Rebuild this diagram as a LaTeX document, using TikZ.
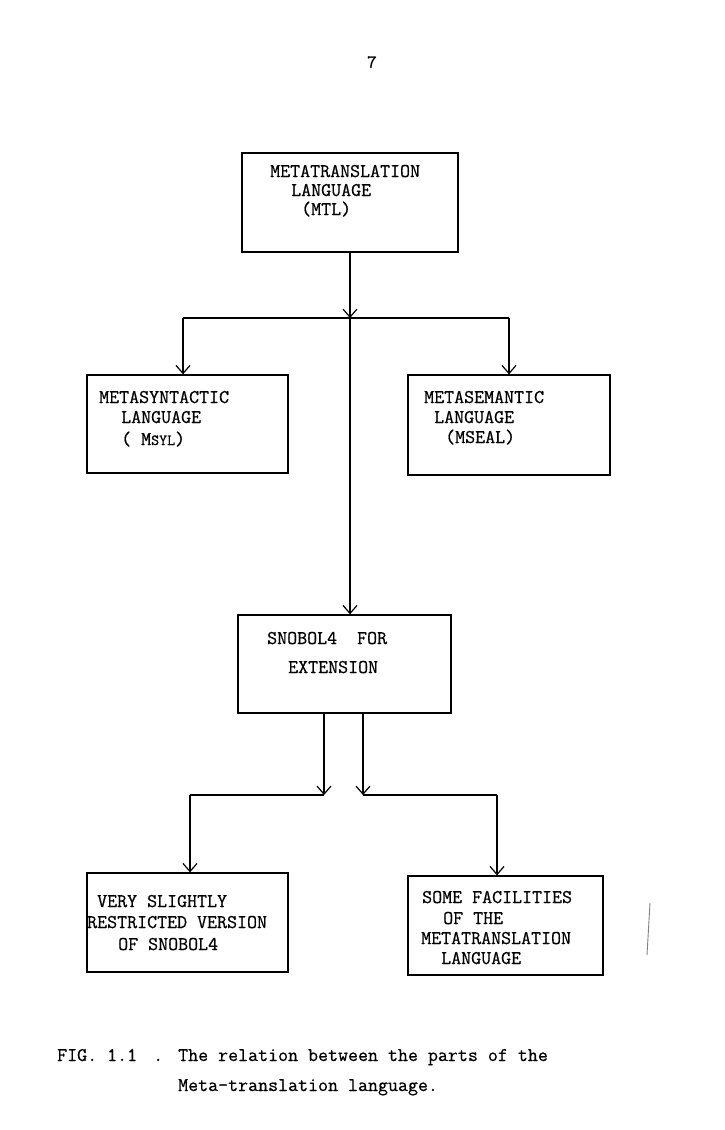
\documentclass[tikz,border=0pt]{standalone}
\usepackage{fontspec}
\newfontfamily\typew[FakeBold=0.6]{Latin Modern Mono}
\usetikzlibrary{arrows.meta}
\begin{document}
\begin{tikzpicture}[x=1pt,y=-1pt,
  box/.style={draw, line width=1.3pt, inner sep=0pt},
  txt/.style={anchor=base west, inner sep=0pt, font=\typew\fontsize{19.4}{22}\selectfont},
  arr/.style={line width=1.2pt, -{Straight Barb[length=8pt,width=14pt,line width=1.2pt]}},
  ln/.style={line width=1.2pt}]
\useasboundingbox[fill=white] (0,0) rectangle (725,1130);
% page number
\node[txt, anchor=base, font=\ttfamily\bfseries\fontsize{19}{22}\selectfont] (pg) at (372,68) {7};
% boxes
\node[box, minimum width=216pt, minimum height=99pt] (mtl) at (350,202.5) {};
\node[box, minimum width=201pt, minimum height=98pt] (msyn) at (187.5,424) {};
\node[box, minimum width=202pt, minimum height=100pt] (msem) at (509,425) {};
\node[box, minimum width=213pt, minimum height=98pt] (snob) at (344.5,664) {};
\node[box, minimum width=201pt, minimum height=99pt] (vss) at (187.5,922.5) {};
\node[box, minimum width=195pt, minimum height=99pt] (sf) at (505.5,925.5) {};
% texts
\node[txt] (mtl1) at (270,177) {METATRANSLATION};
\node[txt] (mtl2) at (291,196) {LANGUAGE};
\node[txt] (mtl3) at (301,215) {(MTL)};
\node[txt] (msyn1) at (99,403) {METASYNTACTIC};
\node[txt] (msyn2) at (121,423) {LANGUAGE};
\node[txt] (msyn3) at (121,445) {(\ M{\fontsize{15.5}{17}\selectfont SYL})};
\node[txt] (msem1) at (424,403) {METASEMANTIC};
\node[txt] (msem2) at (434,423) {LANGUAGE};
\node[txt] (msem3) at (445,443) {(MSEAL)};
\node[txt] (snob1) at (267,644) {SNOBOL4\ \ FOR};
\node[txt] (snob2) at (288,673) {EXTENSION};
\node[txt] (vss1) at (97,907) {VERY SLIGHTLY};
\node[txt] (vss2) at (87,928) {RESTRICTED VERSION};
\node[txt] (vss3) at (118,950) {OF SNOBOL4};
\node[txt] (sf1) at (422,903) {SOME FACILITIES};
\node[txt] (sf2) at (443,924) {OF THE};
\node[txt] (sf3) at (421,944) {METATRANSLATION};
\node[txt] (sf4) at (441,964) {LANGUAGE};
% caption
\node[txt] (cap0) at (57,1061) {FIG. 1.1};
\node[txt] (capd) at (153,1061) {.};
\node[txt] (cap1) at (178,1061) {The relation between the parts of the};
\node[txt] (cap2) at (178,1091) {Meta-translation language.};
% connectors
\coordinate (j) at (350,318);
\coordinate (jl) at (183,318);
\coordinate (jr) at (509,318);
\draw[arr] (mtl.south) -- (j);
\draw[ln] (jl) -- (jr);
\draw[arr] (jl) -- (jl |- msyn.north);
\draw[arr] (jr) -- (jr |- msem.north);
\draw[arr] (j) -- (j |- snob.north);
\coordinate (bl) at (324,795);
\coordinate (br) at (363,795);
\coordinate (kl) at (190,795);
\coordinate (kr) at (497,795);
\draw[arr] (snob.south -| bl) -- (bl);
\draw[arr] (snob.south -| br) -- (br);
\draw[ln] (kl) -- (bl);
\draw[ln] (br) -- (kr);
\draw[arr] (kl) -- (kl |- vss.north);
\draw[arr] (kr) -- (kr |- sf.north);
% stray mark at right
\draw[line width=0.9pt, gray] (650,903) -- (647,955);
\end{tikzpicture}
\end{document}
